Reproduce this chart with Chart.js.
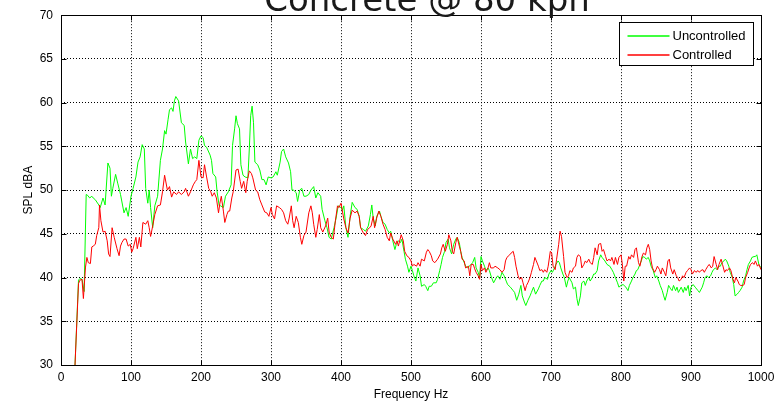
<!DOCTYPE html>
<html>
<head>
<meta charset="utf-8">
<title>Concrete @ 80 kph</title>
<script src="https://cdn.jsdelivr.net/npm/chart.js@4"></script>
<style>
  html, body { margin: 0; padding: 0; background: #fff; }
</style>
</head>
<body>
<canvas id="chart" width="783" height="403"></canvas>
<script>
// Frequency (Hz) / SPL (dBA)
const freqUncontrolled = [
  20,25,27,30,33,36,38,41,44,46,49,54,56,60,63,67,70,72,74,78,81,85,90,93,96,
  100,103,107,110,113,116,119,121,124,126,128,131,134,138,142,145,148,150,153,155,158,160,162,164,168,172,176,178,182,185,188,191,194,197,
  200,203,205,208,213,215,217,221,223,226,228,232,235,239,243,245,248,250,252,255,257,260,263,267,269,271,273,275,277,281,284,287,290,293,296,
  300,303,307,309,313,315,318,321,325,328,330,332,336,338,341,344,347,350,354,357,361,364,367,371,373,377,380,383,386,390,393,396,
  400,402,404,407,410,413,416,420,423,426,428,432,435,439,442,444,446,449,451,455,457,460,463,466,469,471,474,477,479,482,485,487,490,492,495,497,
  500,502,504,507,510,513,515,519,521,524,526,529,532,536,538,541,543,545,548,550,553,555,558,561,564,566,569,571,573,576,578,581,583,586,588,591,593,596,598,
  600,602,605,607,610,612,615,618,622,624,627,630,633,636,638,642,646,648,651,654,657,659,662,664,667,670,672,675,678,682,684,687,689,691,695,697,
  700,702,705,707,710,712,714,717,719,722,724,726,730,732,735,737,739,742,744,747,749,751,754,756,759,761,763,766,768,771,773,777,780,784,787,789,792,795,797,
  800,803,807,810,812,815,817,820,822,824,827,829,831,834,836,839,841,843,846,849,851,854,856,859,861,863,866,868,871,873,875,878,880,882,886,889,891,893,896,898,
  900,903,906,910,912,916,918,920,923,925,928,930,932,935,937,940,942,944,947,949,951,954,956,959,961,963,966,968,970,973,975,978,980,982,985,987,990,992,994,997,1000
];
const splUncontrolled = [
  30,39.7,39.9,39.8,38.4,49.5,49.4,49.1,49.3,49.1,48.9,48.3,48,49.1,48.3,53.1,52.5,49.3,50.2,51.8,50.8,49.5,47.4,48,47,
  49.3,50.2,51.5,53.2,53.8,55.2,54.7,50.2,48.5,50,48,45.7,48.2,49.3,53.4,54.7,56.8,56.4,58.1,59.2,59.4,59,60.2,60.7,60.2,57.7,57.4,55.5,53,54.7,53.6,53.8,53.6,55.7,
  56.2,56,55.1,54.9,54,53.4,51.9,51.5,49.8,48.2,48.2,48,49.3,49.8,50.6,55.1,57,58.5,57.6,57,52.9,51.7,51.5,51.4,54.7,58.5,59.6,57.7,53.2,52.9,52.3,51.2,51.2,50.6,51.5,
  51.4,51.5,52.1,51.7,53.2,54.4,54.7,53.8,53.1,52.1,50,50,49.7,48.7,50,50.2,49.3,49.3,49.5,50,50.4,49.1,49.7,49.3,47.8,46.5,45.7,44.6,44.4,45.7,46.8,48.2,
  48,47.7,48.2,45.7,44.6,47,48.6,48,47.8,47,45.7,45.5,45.3,45.9,47.2,48.3,46.8,45.9,47,47.6,47,46.3,46.1,45.5,45.1,45.3,44.2,43.2,43.8,44.2,44,44.4,43,42.1,41.3,40.6,
  41.3,40.8,40.2,39.6,41.1,40.2,39,39.2,39,38.5,39,39,39.4,39.4,39.8,40.8,41.5,42.3,43,44,44.4,43.4,42.7,43.8,44.4,44.6,44,43,42.3,41.7,41.3,41.1,41.3,41.5,41.7,42.3,41.1,40.6,40,
  42.4,41.9,41.3,40.8,41.1,40.8,40,39.4,40,40.2,39.8,40.6,40.2,39.6,39.2,38.9,38.5,38.3,37.4,38.1,39.1,37.9,37.2,36.8,37.4,37.9,38.3,38.9,38.1,38.7,39.1,39.6,39.6,40,39.8,40.4,
  40.8,40.6,41.1,41.5,41.9,41.7,41.1,40.4,40,38.9,39.6,40,39.4,38.7,38.9,37.6,36.8,37.9,39.4,39.6,39.1,39.6,40,39.6,40,40.4,40.4,40.8,41.9,42.6,42.3,41.9,41.5,41.3,40.9,40.6,40,39.4,38.9,
  39.1,39.2,38.9,38.5,39.1,39.6,40,40.4,40.8,40.9,41.5,41.9,42.4,42.3,42.1,42.3,41.9,41.3,40.8,40,40.2,39.6,39.1,38.5,37.9,37.4,38.3,39.1,38.7,38.5,39.1,38.5,38.9,38.3,38.9,38.3,38.9,38.5,39.1,37.9,
  38.9,39.2,38.9,38.5,38.3,38.9,39.4,40,40.2,40,40.2,40.6,40.9,41.1,40.9,41.3,41.3,41.7,41.9,42.1,41.9,41.3,40.6,40,39.2,37.9,38.1,38.3,38.5,38.9,39.6,40.2,40.9,41.5,41.9,42.3,42.4,42.4,42.6,41.5,41.1
];

const freqControlled = [
  20,25,27,30,32,35,37,39,42,44,46,49,51,54,55,57,60,63,66,68,70,73,76,80,83,85,87,90,93,96,99,
  101,103,107,109,112,114,117,121,124,126,128,131,134,138,142,145,148,152,155,158,161,165,168,172,176,178,182,185,189,192,194,197,
  200,203,205,208,211,214,216,219,222,225,227,229,232,234,237,239,241,244,246,250,253,256,258,261,264,266,269,272,274,278,281,284,287,291,294,297,
  300,302,305,308,312,315,318,321,324,326,329,331,333,336,339,342,344,347,350,354,357,359,361,364,366,369,371,374,378,381,383,386,389,392,395,397,
  400,404,407,410,413,416,420,423,426,428,432,435,438,441,443,446,448,451,454,457,460,463,466,469,471,474,478,480,482,486,489,491,494,497,
  500,502,504,508,510,513,515,519,522,524,526,529,531,534,538,542,544,546,549,552,554,557,559,561,564,566,569,571,573,576,578,582,584,586,589,591,593,596,598,
  600,602,605,607,610,612,614,618,620,624,627,630,633,635,637,641,643,646,648,650,653,655,658,660,663,665,667,670,672,675,677,679,682,684,687,689,691,694,696,699,
  701,703,706,708,711,713,715,718,720,723,725,727,730,732,735,737,739,742,744,747,749,751,754,756,759,761,763,766,768,771,773,775,778,780,783,785,787,790,792,795,797,
  800,802,804,806,808,811,813,815,818,820,822,825,827,830,832,835,837,839,841,843,845,848,850,852,855,857,859,862,864,867,869,871,874,876,879,881,883,886,888,890,893,895,898,
  900,902,905,907,910,912,914,917,919,921,924,926,929,931,933,936,938,940,943,945,948,950,952,955,957,960,962,964,967,969,971,974,976,978,981,983,985,988,990,992,995,997,1000
];
const splControlled = [
  30,39.3,39.7,39.8,37.6,41.2,42.3,41.7,41.6,43.5,43.6,43.8,44.8,45.7,48.3,46.5,45.2,45.3,44.2,42.7,42.4,45.7,44.6,43.3,42.5,43.6,44,44.4,44.4,43.6,43.8,
  42.9,43.3,44.6,43.3,44.6,43.5,46.3,46.1,46.5,45.7,44.7,45.9,47.2,48.2,48.3,49.8,51.7,50,50.4,49.2,49.8,49.5,49.8,49.5,49.8,50.2,49.3,49.8,50.6,51,51.2,53.4,
  51.5,51.4,52.9,51.5,50.2,49.8,49.3,49.7,49.1,47.4,48.5,49.3,47.6,46.3,47.2,47.6,47.6,49.1,49.8,52.3,52.4,51,50.2,51,49.7,51,52.2,51.9,51.4,50,49.8,48.9,48.3,47.5,47.4,47,
  48,47.2,46.7,48.2,48,47.8,47.4,46.5,46.1,46.8,48.2,46.5,45.7,47,46.3,44.6,43.8,44.8,45.2,47.4,48.2,47.4,46.1,44.6,45.5,47.2,45.7,45.2,45.9,46.8,45.2,44.6,44.4,46.5,48.2,48,
  48.5,46.7,45.7,45.1,46.8,47.7,47.4,47.6,47,45.7,45.1,44.8,45.5,45.7,45.9,47,45.7,46.8,47.6,47,46.1,45.5,44.6,44.2,45.1,44.4,43.8,44.2,43.6,44.9,44.2,43,42.5,42.3,
  41.9,41.3,41.5,41.3,41.7,41.3,42.1,41.9,42.9,43.2,43,42.5,41.9,41.7,42.1,42.7,43.4,43.8,43,43.8,44.9,44.2,43,42.7,44,44.6,43.6,43,42.1,41.9,41.1,41.3,40.2,41.5,41.5,41,40.6,40.2,39.8,
  41.5,40.8,41.1,40.6,41.1,41.7,41.1,41.1,41.3,41.1,40.9,40.6,40.9,41.9,42.3,42.6,42.8,43,42.3,41.3,40.2,39.8,40,39.4,38.5,39.1,39.4,40,40.6,41.5,42.3,41.9,41.3,40.8,40.9,40.6,40.9,40.6,41.3,43,
  42.8,41.3,40.9,42.1,43.8,45.3,44.7,42.4,40.6,40,40.2,40.8,40.6,41.1,41.3,42.3,42.6,42.4,41.1,41.5,41.9,41.7,42.1,41.7,41.5,42.3,43.4,42.6,43.8,43.9,43,43.2,42.4,41.9,42.1,41.9,42.3,41.5,42.3,41.5,42.3,
  42.6,41.5,39.6,41.3,41.3,42.4,42.1,42.6,42.3,43.2,43.4,41.7,41.3,42.4,42.8,42.6,43.4,43.8,43.2,41.9,41.1,40.6,40.9,41.3,40.9,40.4,41.1,40.6,40.2,41.9,42.1,41.1,40.4,40.9,40.2,40,39.6,39.8,40.2,40,40.6,40.8,41.1,
  40.9,40.4,40.8,40.6,40.8,40.6,40.8,40.9,40.6,40.9,41.3,41.5,41.1,41.3,42.4,41.5,40.9,41.5,42.1,41.5,40.6,40.9,40.8,41.1,40.8,39.8,39.4,40,39.6,39.2,39.1,39.1,39.2,40,40.6,41.1,41.5,41.7,41.5,41.9,41.3,41.5,40.9
];

const xTicks = [0, 100, 200, 300, 400, 500, 600, 700, 800, 900, 1000];
const yTicks = [30, 35, 40, 45, 50, 55, 60, 65, 70];
const seriesNames = ['Uncontrolled', 'Controlled'];
const titleText = 'Concrete @ 80 kph';

const FONT = "'Liberation Sans Narrow', 'Liberation Sans', Arial, sans-serif";

function toPoints(xs, ys) {
  return xs.map((f, i) => ({ x: f, y: ys[i] }));
}

// box, inward ticks, legend and the clipped title, MATLAB style
const matlabDecor = {
  id: 'matlabDecor',
  afterDraw(chart) {
    const { ctx, chartArea: a, scales: { x, y } } = chart;
    ctx.save();
    ctx.setLineDash([]);
    ctx.strokeStyle = '#000';
    ctx.lineWidth = 1;

    const L = Math.round(a.left) + 0.5, R = Math.round(a.right) + 0.5;
    const T = Math.round(a.top) + 0.5, B = Math.round(a.bottom) + 0.5;
    ctx.strokeRect(L, T, R - L, B - T);

    ctx.beginPath();
    const tl = 5;
    x.ticks.forEach(t => {
      const px = Math.round(x.getPixelForValue(t.value)) + 0.5;
      ctx.moveTo(px, B); ctx.lineTo(px, B - tl);
      ctx.moveTo(px, T); ctx.lineTo(px, T + tl);
    });
    y.ticks.forEach(t => {
      const py = Math.round(y.getPixelForValue(t.value)) + 0.5;
      ctx.moveTo(L, py); ctx.lineTo(L + tl, py);
      ctx.moveTo(R, py); ctx.lineTo(R - tl, py);
    });
    ctx.stroke();

    // legend
    const boxW = 134, boxH = 43;
    const bx = Math.round(a.right) - 8 - boxW + 0.5;
    const by = Math.round(a.top) + 7 + 0.5;
    ctx.fillStyle = '#fff';
    ctx.fillRect(bx, by, boxW, boxH);
    ctx.strokeRect(bx, by, boxW, boxH);
    ctx.font = '13px ' + FONT;
    ctx.textBaseline = 'middle';
    ctx.textAlign = 'left';
    chart.data.datasets.forEach((ds, i) => {
      const ly = Math.round(by + 13 + i * 19.5);
      ctx.strokeStyle = ds.borderColor;
      ctx.lineWidth = 1.5;
      ctx.beginPath();
      ctx.moveTo(bx + 8, ly);
      ctx.lineTo(bx + 50, ly);
      ctx.stroke();
      ctx.fillStyle = '#000';
      ctx.fillText(ds.label, bx + 53, ly + 0.5);
    });

    // title, partly off the top of the picture
    ctx.fillStyle = '#1a1a1a';
    ctx.font = "34px 'DejaVu Sans', sans-serif";
    ctx.textAlign = 'center';
    ctx.textBaseline = 'alphabetic';
    ctx.fillText(titleText, 427, 11);
    ctx.restore();
  }
};

Chart.defaults.font.family = FONT;
Chart.defaults.color = '#000';

new Chart(document.getElementById('chart').getContext('2d'), {
  type: 'line',
  data: {
    datasets: [
      {
        label: seriesNames[0],
        data: toPoints(freqUncontrolled, splUncontrolled),
        borderColor: '#00ff00',
        borderWidth: 1,
        pointRadius: 0,
        tension: 0,
        fill: false,
        order: 2
      },
      {
        label: seriesNames[1],
        data: toPoints(freqControlled, splControlled),
        borderColor: '#ff0000',
        borderWidth: 1,
        pointRadius: 0,
        tension: 0,
        fill: false,
        order: 1
      }
    ]
  },
  options: {
    responsive: false,
    animation: false,
    events: [],
    layout: { padding: { left: 0, right: 22, top: 12, bottom: 0 } },
    plugins: {
      legend: { display: false },
      tooltip: { enabled: false },
      title: { display: false }
    },
    scales: {
      x: {
        type: 'linear',
        min: 0,
        max: 1000,
        afterBuildTicks: s => { s.ticks = xTicks.map(v => ({ value: v })); },
        afterFit: s => { s.height = 38; },
        ticks: { font: { size: 12 }, padding: 5, maxRotation: 0, autoSkip: false, callback: v => String(v) },
        grid: { color: '#000', lineWidth: 1, drawTicks: false },
        border: { display: false, dash: [1, 2] },
        title: { display: true, text: 'Frequency Hz', font: { size: 12 }, padding: { top: 0, bottom: 1 } }
      },
      y: {
        type: 'linear',
        min: 30,
        max: 70,
        afterBuildTicks: s => { s.ticks = yTicks.map(v => ({ value: v })); },
        afterFit: s => { s.width = 61; },
        ticks: { font: { size: 12 }, padding: 8, autoSkip: false, callback: v => String(v) },
        grid: { color: '#000', lineWidth: 1, drawTicks: false },
        border: { display: false, dash: [1, 2] },
        title: { display: true, text: 'SPL dBA', font: { size: 12 }, padding: { top: 21, bottom: 0 } }
      }
    }
  },
  plugins: [matlabDecor]
});
</script>
</body>
</html>
